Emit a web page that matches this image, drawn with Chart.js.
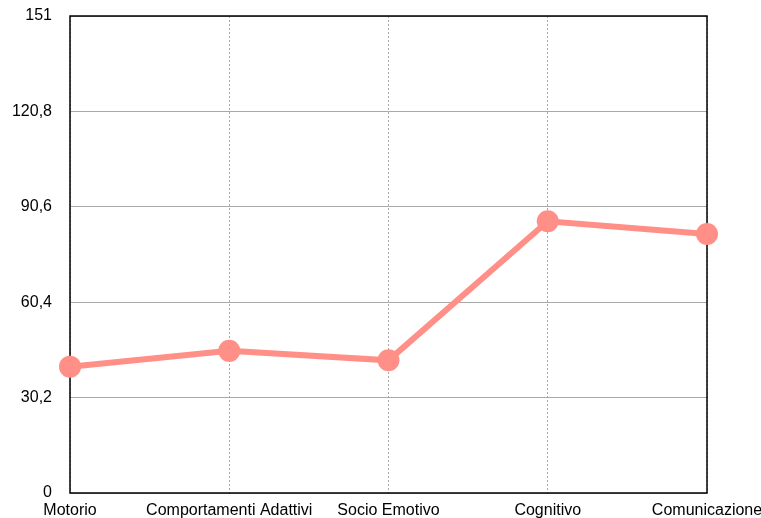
<!DOCTYPE html>
<html>
<head>
<meta charset="utf-8">
<script src="https://cdn.jsdelivr.net/npm/chart.js@4"></script>
<style>
  html, body { margin: 0; padding: 0; background: #fff; }
  #wrap { width: 761px; height: 518px; }
</style>
</head>
<body>
<div id="wrap"><canvas id="grafico"></canvas></div>
<script>
const categorie = ['Motorio', 'Comportamenti Adattivi', 'Socio Emotivo', 'Cognitivo', 'Comunicazione'];
const punteggi = [40, 45, 42, 86, 82];
const tickY = [0, 30.2, 60.4, 90.6, 120.8, 151];

const colore = '#ff8f87';

// cornice nera intorno all'area del grafico
const cornice = {
    id: 'cornice',
    beforeDatasetsDraw(chart) {
        const { ctx, chartArea: a } = chart;
        ctx.save();
        ctx.strokeStyle = '#000';
        ctx.lineWidth = 1.5;
        ctx.strokeRect(a.left, a.top, a.right - a.left, a.bottom - a.top);
        ctx.restore();
    }
};

// niente padding automatico delle etichette, lo decide layout.padding
const senzaPadding = (s) => {
    s.paddingLeft = 0; s.paddingRight = 0; s.paddingTop = 0; s.paddingBottom = 0;
};

new Chart(document.getElementById('grafico'), {
    type: 'line',
    data: {
        labels: categorie,
        datasets: [{
            data: punteggi,
            borderColor: colore,
            backgroundColor: colore,
            borderWidth: 6,
            pointRadius: 11,
            pointHoverRadius: 11,
            pointBorderWidth: 0,
            tension: 0,
            fill: false,
            clip: false
        }]
    },
    options: {
        responsive: true,
        maintainAspectRatio: false,
        animation: false,
        layout: { padding: { top: 16, right: 54, left: 0, bottom: 0 } },
        plugins: { legend: { display: false }, tooltip: { enabled: false } },
        scales: {
            x: {
                afterFit: (s) => { senzaPadding(s); s.height = 25; },
                grid: { color: '#a8a8a8', lineWidth: 1, drawTicks: false },
                border: { display: false, dash: [2, 2] },
                ticks: {
                    color: '#000',
                    padding: 8,
                    maxRotation: 0,
                    autoSkip: false,
                    font: { family: "'Liberation Sans', Arial, sans-serif", size: 16 }
                }
            },
            y: {
                min: 0,
                max: 151,
                afterFit: (s) => { senzaPadding(s); s.width = 70; },
                afterBuildTicks: (s) => { s.ticks = tickY.map(v => ({ value: v })); },
                grid: { color: '#a8a8a8', lineWidth: 1, drawTicks: false },
                border: { display: false },
                ticks: {
                    color: '#000',
                    padding: 18,
                    font: { family: "'Liberation Sans', Arial, sans-serif", size: 16 },
                    callback: (v) => String(Math.round(v * 10) / 10).replace('.', ',')
                }
            }
        }
    },
    plugins: [cornice]
});
</script>
</body>
</html>
